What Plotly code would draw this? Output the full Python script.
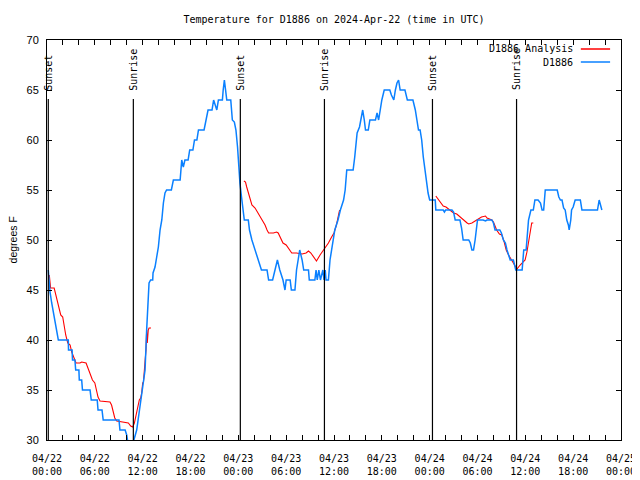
import pandas as pd
import plotly.graph_objects as go

# ---- data (hours after 2024-04-22 00:00 UTC, degrees F) ----
blue_hours = [0.16, 0.38, 0.59, 0.79, 1.0, 1.2, 1.42, 2.67, 2.7, 3.15, 3.2, 3.5, 3.6, 4.0, 4.05, 4.35,
              4.45, 5.4, 5.55, 6.3, 6.4, 6.9, 7.05, 9.03, 9.15, 9.8, 10.0, 10.1, 10.3, 10.7, 10.9, 11.25,
              11.6, 11.9, 12.1, 12.3, 12.5, 12.6, 12.7, 12.8, 13.0, 13.26, 13.3, 13.55, 13.76, 13.97,
              14.18, 14.4, 14.6, 14.8, 15.0, 15.6, 15.85, 16.7, 16.9, 17.1, 17.3, 17.7, 17.9, 18.3, 18.5,
              18.8, 19.0, 19.7, 19.95, 20.2, 20.7, 20.9, 21.1, 21.3, 21.5, 22.0, 22.1, 22.25, 22.4, 22.55,
              23.05, 23.25, 23.5, 23.7, 23.9, 24.05, 24.2, 24.4, 24.6, 24.75, 25.25, 25.4, 25.7, 26.1,
              26.5, 26.9, 27.6, 27.8, 28.3, 28.6, 28.9, 29.2, 29.6, 29.85, 30.0, 30.5, 30.65, 31.1, 31.2,
              31.3, 31.5, 31.7, 32.0, 32.2, 32.8, 32.9, 33.6, 33.75, 33.9, 34.1, 34.3, 34.6, 34.75, 34.9,
              35.0, 35.3, 35.5, 35.7, 35.9, 36.1, 36.5, 36.8, 37.2, 37.4, 37.6, 38.4, 38.6, 38.8, 38.9,
              39.2, 39.4, 39.6, 39.8, 39.95, 40.3, 40.5, 41.2, 41.4, 41.6, 41.8, 42.0, 42.3, 43.0, 43.2,
              43.5, 43.7, 43.9, 44.1, 44.3, 44.9, 45.2, 45.9, 46.2, 46.4, 46.6, 46.8, 47.0, 47.2, 47.4,
              47.6, 47.8, 48.0, 48.7, 48.77, 49.7, 49.85, 50.0, 50.8, 51.0, 51.2, 51.8, 52.0, 52.2, 52.9,
              53.1, 53.3, 53.5, 53.7, 53.9, 54.0, 54.7, 55.0, 55.2, 55.8, 56.0, 56.2, 56.8, 57.0, 57.25,
              57.5, 57.7, 57.9, 58.1, 58.5, 58.8, 59.6, 59.8, 60.1, 60.3, 60.4, 60.7, 61.0, 61.2, 61.6,
              61.9, 62.1, 62.3, 62.5, 64.0, 64.2, 64.4, 64.6, 64.8, 65.0, 65.2, 65.4, 65.5, 65.7, 65.8,
              66.0, 66.25, 66.9, 67.1, 69.05, 69.26, 69.4, 69.6]
blue_temps = [47.0, 44.8, 43.7, 42.7, 41.7, 40.8, 40, 40, 39, 39, 38, 38, 37, 37, 36, 36,
              35, 35, 34, 34, 33, 33, 32, 32, 31, 31, 30.5, 30, 29, 29, 30, 31,
              33, 34.7, 35.7, 37, 41, 43, 45.2, 45.7, 46, 46, 46.7, 47.3, 48.3, 49.3,
              51, 52, 53.7, 54.7, 55, 55, 56, 56, 58, 57.3, 58, 58, 59, 59, 60,
              60, 61, 61, 62, 63, 63, 64, 63.5, 63, 64, 64, 65, 66, 65, 64,
              64, 62, 61.8, 61, 59.3, 56.7, 55.7, 54.3, 53, 52, 52, 51, 50, 49,
              48, 47, 47, 46, 46, 47, 48, 47, 46, 45, 46, 46, 45, 45, 46,
              47, 48, 49, 48, 47, 47, 46, 46, 47, 46, 47, 46, 47, 46, 47,
              46, 46, 48, 49, 50, 51, 52, 53, 54, 55, 57, 57, 58.3, 59.7, 60.7,
              61.3, 62.3, 63, 62, 61, 61, 62, 62, 62.7, 62, 63, 64, 65, 65, 64.5,
              64, 65, 65.7, 66, 65, 65, 64, 64, 63, 62, 61, 61, 60, 58.3, 57,
              55.7, 54.7, 54, 54, 53, 53, 52.8, 53, 53, 52.8, 52, 52, 51.2, 50, 50,
              49.7, 49, 49, 50, 51.5, 52, 52, 51.9, 52, 52, 51.7, 51, 51, 50.7, 50,
              49.7, 49, 48.6, 48, 48, 47, 47, 49, 49, 51, 52, 53, 53, 54, 54,
              53.7, 53, 53, 55, 55, 54.3, 54, 54, 53.2, 53, 52, 51.5, 51, 52, 53,
              53.3, 54, 54, 53, 53, 54, 53.6, 53]

red1_hours = [0.29, 0.45, 0.9, 1.13, 1.3, 1.55, 1.72, 1.97, 2.13, 2.35, 2.6, 2.9, 3.1, 3.4, 3.64, 4.14,
              4.35, 4.9, 5.2, 5.5, 5.7, 6.0, 6.2, 6.4, 6.65, 7.9, 8.1, 8.3, 8.5, 8.75, 9.8, 10.2, 10.5,
              10.75, 10.96, 11.13, 11.3, 11.58, 11.75, 11.88, 12.0, 12.1, 12.33, 12.42, 12.5, 12.58,
              12.7, 12.8, 13.05]
red1_temps = [46.5, 45.2, 45.2, 44.5, 43.7, 43, 42.5, 42.3, 41.5, 40.5, 39.7, 39.5, 38.8, 38.2, 37.7, 37.7,
              37.8, 37.7, 37, 36.3, 36, 35.7, 35, 34.3, 33.9, 33.8, 33.5, 32.8, 32.2, 31.9, 31.8, 31.7, 31.4,
              31.3, 31.7, 32.3, 33.2, 34, 34.2, 34.7, 35.7, 35.8, 38.2, 39, 41, 39.7,
              41, 41.2, 41.2]
red2_hours = [24.7, 24.9, 25.05, 25.26, 25.5, 25.7, 26.1, 26.5, 26.9, 27.35, 27.6, 27.8, 28.4, 28.8, 29.0,
              29.2, 29.6, 30.0, 30.3, 30.7, 31.3, 32.0, 32.5, 32.8, 33.1, 33.4, 33.8, 34.25, 34.7, 35.0,
              35.3, 35.7, 36.0, 36.3, 36.5, 36.7]
red2_temps = [55.9, 55.8, 55.3, 54.7, 54, 53.5, 53.2, 52.7, 52.2, 51.5, 51, 50.7, 50.7, 50.8, 50.7,
              50.3, 49.7, 49.5, 49.2, 48.7, 48.7, 48.6, 48.7, 48.9, 48.7, 48.3, 47.9, 48.5, 49, 49.3,
              49.7, 50.3, 50.7, 51.5, 52.3, 53.0]
red3_hours = [48.77, 49.2, 49.5, 49.7, 50.05, 50.35, 50.8, 51.0, 51.4, 51.8, 52.2, 52.7, 52.9, 53.3, 53.7,
              54.1, 54.5, 55.0, 55.2, 55.8, 56.0, 56.2, 56.4, 56.75, 57.05, 57.35, 57.6, 57.9, 58.3, 58.7,
              58.95, 59.35, 59.7, 59.97, 60.2, 60.4, 60.6, 60.8, 61.0]
red3_temps = [54.4, 53.9, 53.6, 53.4, 53.3, 53.1, 52.8, 52.7, 52.6, 52.3, 52, 51.7, 51.6, 51.7, 51.9,
              52.1, 52.3, 52.4, 52.2, 52, 51.8, 51.4, 51, 50.6, 50.5, 49.8, 49, 48.5, 48, 47.5,
              47.1, 47.5, 47.8, 48, 48.8, 49.8, 51, 51.7, 51.7]

sun_labels = ["Sunset", "Sunrise", "Sunset", "Sunrise", "Sunset", "Sunrise"]
sun_hours = [0.16, 10.83, 24.25, 34.8, 48.35, 58.9]

tick_hours = [0, 6, 12, 18, 24, 30, 36, 42, 48, 54, 60, 66, 72]
tick_text = ["04/22<br>00:00", "04/22<br>06:00", "04/22<br>12:00", "04/22<br>18:00",
             "04/23<br>00:00", "04/23<br>06:00", "04/23<br>12:00", "04/23<br>18:00",
             "04/24<br>00:00", "04/24<br>06:00", "04/24<br>12:00", "04/24<br>18:00",
             "04/25<br>00:00"]

base = pd.Timestamp("2024-04-22 00:00")


def to_time(hours):
    return [base + pd.Timedelta(hours=h) for h in hours]


red_x, red_y = [], []
for hs, vs in [(red1_hours, red1_temps), (red2_hours, red2_temps), (red3_hours, red3_temps)]:
    red_x += to_time(hs) + [None]
    red_y += vs + [None]

MONO = "DejaVu Sans Mono"
SANS = "Liberation Sans"

fig = go.Figure()
fig.add_trace(go.Scatter(x=red_x, y=red_y, mode="lines", name="D1886 Analysis",
                         line=dict(color="#ff0000", width=1.1), connectgaps=False))
fig.add_trace(go.Scatter(x=to_time(blue_hours), y=blue_temps, mode="lines", name="D1886",
                         line=dict(color="#0a80ff", width=1.5)))

# sunrise / sunset markers
for lab, h in zip(sun_labels, sun_hours):
    t = base + pd.Timedelta(hours=h)
    fig.add_shape(type="line", xref="x", yref="y", x0=t, x1=t, y0=30, y1=64.1,
                  line=dict(color="black", width=1.2), layer="above")
    fig.add_annotation(x=t, y=64.75, xref="x", yref="y", text=lab, textangle=-90,
                       showarrow=False, xanchor="center", yanchor="bottom",
                       font=dict(family=MONO, size=10, color="black"))

# manual gnuplot-style legend (text left of sample line)
leg_rows = [("D1886 Analysis", "#ff0000", 0.9775), ("D1886", "#0a80ff", 0.945)]
for txt, col, py in leg_rows:
    fig.add_annotation(x=0.919, y=py, xref="paper", yref="paper", text=txt, showarrow=False,
                       xanchor="right", yanchor="middle",
                       font=dict(family=MONO, size=10, color="black"))
    fig.add_shape(type="line", xref="paper", yref="paper", x0=0.930, x1=0.981, y0=py, y1=py,
                  line=dict(color=col, width=1.5))

# y-axis title
fig.add_annotation(x=-0.0585, y=0.5, xref="paper", yref="paper", text="degrees F", textangle=-90,
                   showarrow=False, xanchor="center", yanchor="middle",
                   font=dict(family=SANS, size=10.5, color="black"))

# the page body adds an 8px offset; margins compensate so the plot area sits at 47..621 x 40..440
fig.update_layout(
    width=640, height=480,
    margin=dict(l=39, r=27, t=32, b=48, autoexpand=False),
    paper_bgcolor="white", plot_bgcolor="white",
    showlegend=False,
    title=dict(text="Temperature for D1886 on 2024-Apr-22 (time in UTC)",
               x=0.5, xref="paper", xanchor="center", y=1 - 11 / 480, yref="container",
               yanchor="middle",
               font=dict(family=MONO, size=10, color="black")),
)
fig.update_xaxes(
    type="date", automargin=False,
    range=[base, base + pd.Timedelta(hours=72)],
    tickvals=to_time(tick_hours), ticktext=tick_text,
    ticks="inside", ticklen=5, tickcolor="black", tickwidth=1,
    minor=dict(dtick=2 * 3600 * 1000, ticks="inside", ticklen=5, tickcolor="black", showgrid=False),
    showline=True, linecolor="black", linewidth=1, mirror="ticks",
    showgrid=False, zeroline=False,
    ticklabelstandoff=9,
    tickfont=dict(family=MONO, size=10, color="black"),
)
fig.update_yaxes(
    range=[30, 70], dtick=5, tick0=30, automargin=False,
    ticks="inside", ticklen=5, tickcolor="black", tickwidth=1,
    showline=True, linecolor="black", linewidth=1, mirror="ticks",
    showgrid=False, zeroline=False,
    ticklabelstandoff=5,
    tickfont=dict(family=SANS, size=11, color="black"),
)

fig.write_html("out.html")
